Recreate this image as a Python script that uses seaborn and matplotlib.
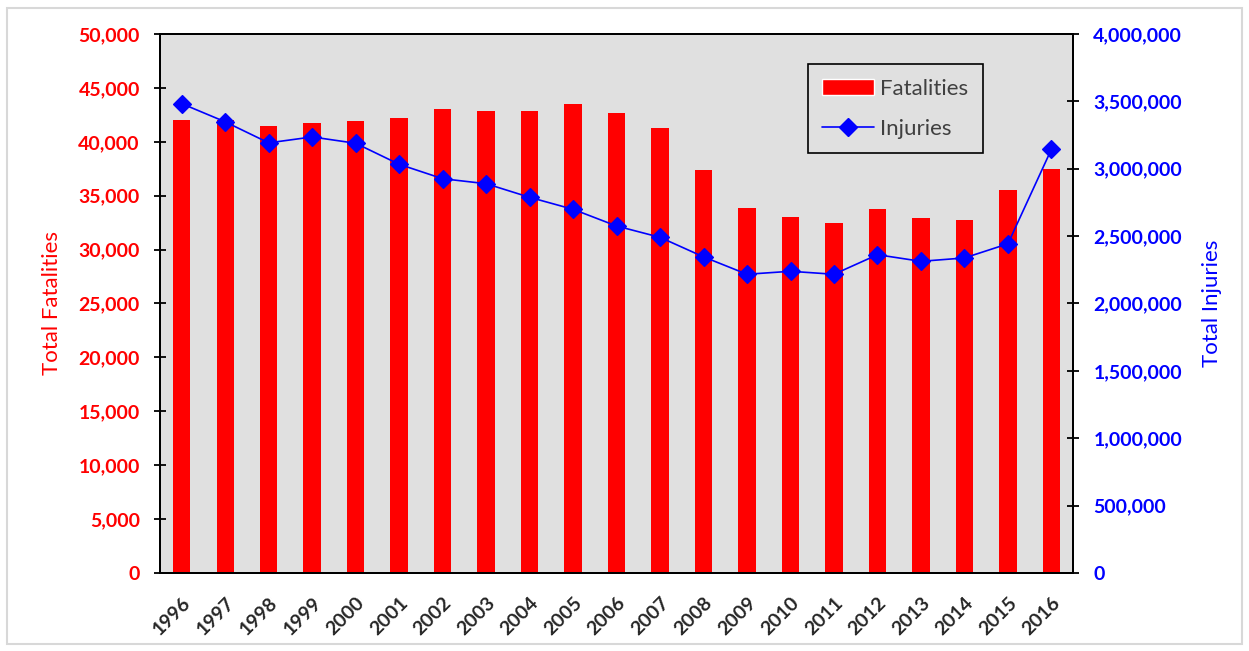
import matplotlib.pyplot as plt
import matplotlib.ticker as mticker
from matplotlib.patches import Patch, Rectangle
from matplotlib.lines import Line2D
import pandas as pd
import seaborn as sns

years = [str(y) for y in range(1996, 2017)]
fatalities = [42065, 42013, 41501, 41717, 41945, 42196, 43005, 42884, 42836, 43510,
              42708, 41259, 37423, 33883, 32999, 32479, 33782, 32893, 32744, 35484, 37461]
injuries = [3483000, 3348000, 3192000, 3236000, 3189000, 3033000, 2926000, 2889000,
            2788000, 2699000, 2575000, 2491000, 2346000, 2217000, 2239000, 2217000,
            2362000, 2313000, 2338000, 2443000, 3144000]

df = pd.DataFrame({"Year": years, "Fatalities": fatalities, "Injuries": injuries})

sns.set_style("white")
plt.rcParams["font.family"] = ["Lato", "DejaVu Sans"]

fig = plt.figure(figsize=(12.49, 6.51), dpi=100)
fig.patches.append(Rectangle((0.006, 0.01), 0.988, 0.978, transform=fig.transFigure,
                             fill=False, edgecolor="#d8d8d8", linewidth=1.5))
ax = fig.add_axes([0.1281, 0.1198, 0.7311, 0.828])
ax.set_facecolor("#e0e0e0")

sns.barplot(df, x="Year", y="Fatalities", color="#ff0000", width=0.4,
            saturation=1, linewidth=0, ax=ax)

ax2 = ax.twinx()
sns.pointplot(df, x="Year", y="Injuries", color="#0000ff", markers="D",
              markersize=9, linewidth=1.2, markeredgecolor="#0000ff", ax=ax2)

n = len(years)
for a in (ax, ax2):
    a.set_xlim(-0.5, n - 0.5)
ax.set_ylim(0, 50000)
ax2.set_ylim(0, 4000000)
ax.yaxis.set_major_locator(mticker.MultipleLocator(5000))
ax2.yaxis.set_major_locator(mticker.MultipleLocator(500000))
fmt = mticker.FuncFormatter(lambda v, p: f"{int(v):,}")
ax.yaxis.set_major_formatter(fmt)
ax2.yaxis.set_major_formatter(fmt)

# year labels at centers, tick marks at category boundaries
ax.set_xticks(range(n))
ax.set_xticklabels(years, rotation=45, ha="right", rotation_mode="anchor",
                   fontsize=14, fontweight="bold")
ax.set_xticks([i - 0.5 for i in range(n + 1)], minor=True)
ax.tick_params(axis="x", which="major", length=0, pad=15)
ax.tick_params(axis="x", which="minor", direction="inout", length=9, width=1.3, color="black")

ax.tick_params(axis="y", direction="inout", length=9, width=1.3, color="black",
               labelcolor="#ff0000", labelsize=14, pad=10)
ax2.tick_params(axis="y", direction="inout", length=9, width=1.3, color="black",
                labelcolor="#0000ff", labelsize=14, pad=10)
for lbl in ax.get_yticklabels() + ax2.get_yticklabels():
    lbl.set_fontweight("bold")

for a in (ax, ax2):
    for s in a.spines.values():
        s.set_visible(True)
        s.set_color("black")
        s.set_linewidth(1.4)

ax.set_xlabel("")
ax.set_ylabel("Total Fatalities", color="#ff0000", fontsize=16, labelpad=12)
ax2.set_ylabel("Total Injuries", color="#0000ff", fontsize=16, labelpad=14)

handles = [Patch(facecolor="#ff0000", label="Fatalities"),
           Line2D([], [], color="#0000ff", marker="D", markersize=9, linewidth=1.2,
                  label="Injuries")]
leg = ax2.legend(handles=handles, loc="upper right", bbox_to_anchor=(0.901, 0.944),
                 borderaxespad=0, fontsize=16, frameon=True, fancybox=False,
                 framealpha=1, facecolor="#e0e0e0", edgecolor="black", borderpad=0.65,
                 labelspacing=0.9, handlelength=2.3, handletextpad=0.3)
leg.get_frame().set_linewidth(1.2)
for t in leg.get_texts():
    t.set_color("#404040")

fig.savefig("out.png", dpi=100)
